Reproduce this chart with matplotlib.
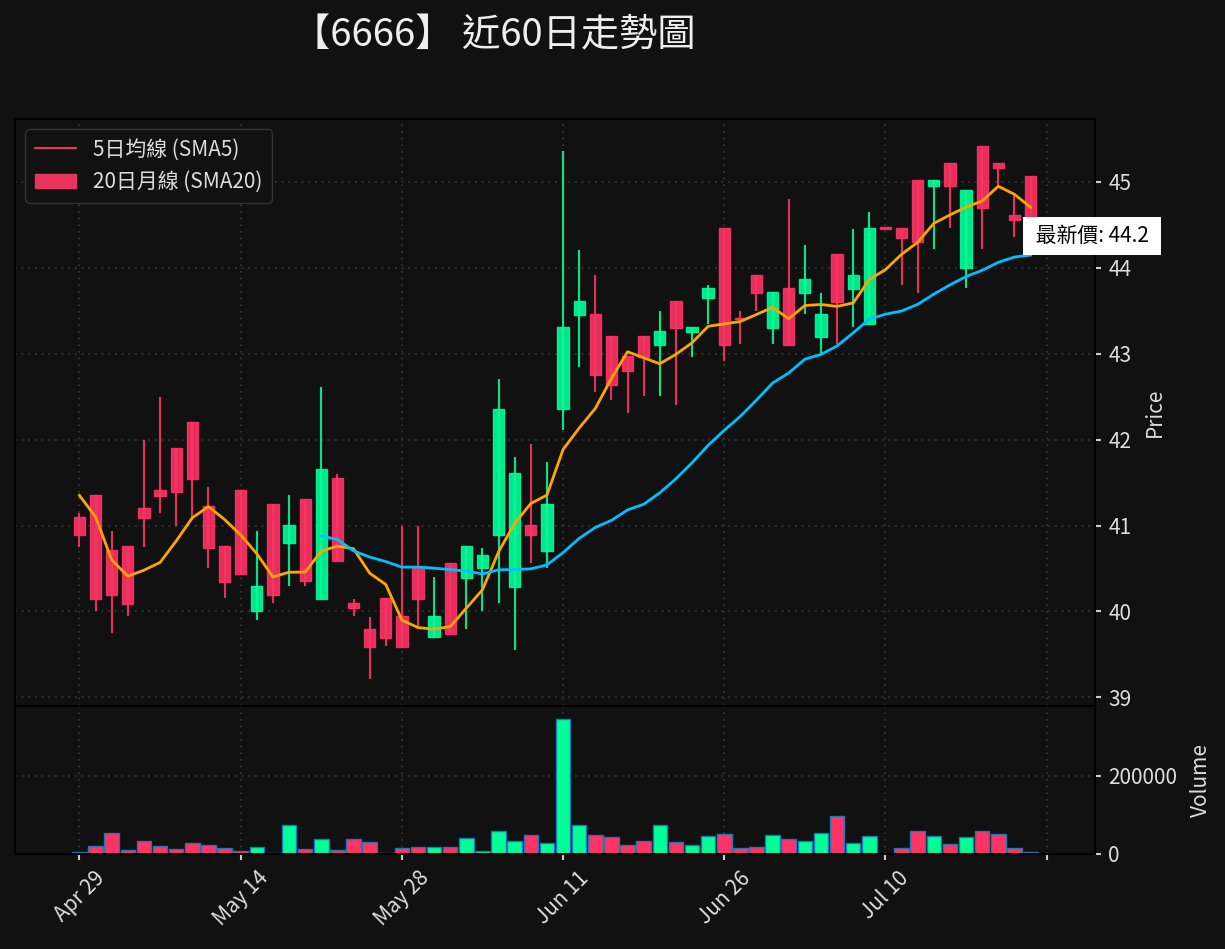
import numpy as np
import matplotlib
matplotlib.use("Agg")
import matplotlib.pyplot as plt
from matplotlib.lines import Line2D
from matplotlib.patches import Patch

plt.rcParams['font.family'] = ['Noto Sans CJK TC', 'DejaVu Sans']

# OHLC (60 trading days)
open_ = [41.10, 41.36, 40.71, 40.76, 41.20, 41.41, 41.90, 42.21, 41.23, 40.76,
         41.41, 40.00, 41.25, 40.80, 41.31, 40.15, 41.55, 40.10, 39.80, 40.16,
         39.95, 40.52, 39.70, 40.56, 40.39, 40.50, 40.89, 40.28, 41.01, 40.70,
         42.35, 43.45, 43.46, 43.20, 42.97, 43.20, 43.10, 43.61, 43.25, 43.65,
         44.46, 43.42, 43.92, 43.30, 43.76, 43.71, 43.19, 44.16, 43.75, 43.35,
         44.46, 44.46, 45.02, 44.95, 45.22, 44.00, 45.42, 45.22, 44.61, 45.07]
high = [41.15, 41.36, 40.94, 40.76, 42.00, 42.50, 41.90, 42.21, 41.45, 40.76,
        41.41, 40.94, 41.25, 41.35, 41.31, 42.61, 41.60, 40.15, 39.94, 40.16,
        41.00, 41.00, 40.40, 40.56, 40.76, 40.74, 42.70, 41.80, 41.95, 41.74,
        45.36, 44.21, 43.91, 43.20, 42.97, 43.20, 43.50, 43.61, 43.31, 43.80,
        44.46, 43.50, 43.92, 43.72, 44.80, 44.26, 43.71, 44.16, 44.45, 44.65,
        44.46, 44.46, 45.02, 45.02, 45.22, 44.91, 45.42, 45.22, 44.86, 45.07]
low = [40.75, 40.00, 39.75, 39.95, 40.75, 41.15, 41.00, 41.06, 40.50, 40.16,
       40.44, 39.90, 40.10, 40.30, 40.30, 40.15, 40.59, 39.95, 39.21, 39.60,
       39.59, 39.80, 39.70, 39.74, 39.80, 40.00, 40.10, 39.55, 40.56, 40.51,
       42.11, 42.85, 42.55, 42.46, 42.31, 42.51, 42.51, 42.40, 42.96, 43.35,
       42.91, 43.11, 43.50, 43.11, 43.10, 43.46, 43.00, 43.11, 43.31, 43.35,
       44.45, 43.80, 43.71, 44.22, 44.46, 43.76, 44.22, 44.95, 44.36, 44.15]
close = [40.89, 40.14, 40.19, 40.09, 41.09, 41.34, 41.39, 41.54, 40.74, 40.34,
         40.44, 40.30, 40.19, 41.01, 40.35, 41.66, 40.59, 40.04, 39.59, 39.69,
         39.59, 40.15, 39.95, 39.74, 40.76, 40.66, 42.36, 41.61, 40.89, 41.25,
         43.31, 43.61, 42.75, 42.64, 42.80, 42.96, 43.26, 43.30, 43.31, 43.76,
         43.10, 43.40, 43.71, 43.72, 43.10, 43.87, 43.46, 43.60, 43.92, 44.46,
         44.45, 44.35, 44.30, 45.02, 44.95, 44.91, 44.70, 45.16, 44.55, 44.20]
volume = [5000, 20700, 54300, 10300, 33600, 20700, 12900, 28400, 23300, 15500,
          7800, 18100, 1500, 75000, 12900, 38800, 10300, 38800, 31000, 2000,
          15500, 18100, 18100, 18100, 41400, 6900, 59500, 33600, 49100, 28400,
          344000, 75000, 49100, 44000, 23300, 33600, 75000, 31000, 23300, 46600,
          51700, 15500, 18100, 49100, 38800, 33600, 54300, 98300, 28400, 46600,
          500, 15500, 59500, 46600, 25900, 44000, 59500, 51700, 15500, 4300]
# closes of the 4 days before the window (needed for the moving averages)
prev_close = [41.39, 42.69, 41.04, 40.74]

tick_labels = ["Apr 29", "May 14", "May 28", "Jun 11", "Jun 26", "Jul 10", ""]

o = np.array(open_)
h = np.array(high)
l = np.array(low)
c = np.array(close)
v = np.array(volume)
n = len(c)
x = np.arange(n)

all_close = np.concatenate([prev_close, c])
k = len(prev_close)
sma5 = np.array([all_close[i - 4:i + 1].mean() for i in range(k, k + n)])
sma20 = np.array([all_close[i - 19:i + 1].mean() if i >= 19 else np.nan
                  for i in range(k, k + n)])

bg = "#111111"
up_c = "#00ff99"
dn_c = "#ff3366"
txt = "#dddddd"
is_up = c >= o
cols = np.where(is_up, up_c, dn_c)

fig = plt.figure(figsize=(12.25, 9.49), dpi=100)
fig.patch.set_facecolor(bg)
ax = fig.add_axes([15 / 1225, 1 - 706 / 949, 1080 / 1225, 587 / 949])
axv = fig.add_axes([15 / 1225, 1 - 854 / 949, 1080 / 1225, 148 / 949], sharex=ax)

for a in (ax, axv):
    a.set_facecolor(bg)
    for s in a.spines.values():
        s.set_color("black")
        s.set_linewidth(1.5)
    a.grid(True, color="#3a3a3a", linestyle=(0, (1, 3)), linewidth=1.2)
    a.set_axisbelow(True)
    a.yaxis.tick_right()
    a.yaxis.set_label_position("right")
    a.tick_params(colors="#cccccc", labelsize=15, length=4.5, width=1.5,
                  labelcolor=txt, pad=5)

# candles
ax.vlines(x, l, h, colors=cols, linewidth=1.5, alpha=0.9, zorder=2)
body = np.maximum(np.abs(c - o), 0.02)
ax.bar(x, body, bottom=np.minimum(o, c), width=0.7, color=cols, alpha=0.9,
       edgecolor=cols, linewidth=1, zorder=3)

ax.plot(x, sma5, color="#ffa500", linewidth=2, zorder=4)
ax.plot(x, sma20, color="#00bfff", linewidth=2, zorder=4)

rng = h.max() - l.min()
ax.set_ylim(l.min() - 0.05 * rng, h.max() + 0.05 * rng)
ax.set_xlim(-4, 63)
ax.set_ylabel("Price", color=txt, fontsize=15, labelpad=9)
plt.setp(ax.get_xticklabels(), visible=False)
ax.tick_params(axis="x", length=0)

ax.text(59.0, 44.245, f" 最新價: {c[-1]:.1f} ", fontsize=15, color="black",
        ha="left", va="bottom", zorder=6, clip_on=False,
        bbox=dict(boxstyle="square,pad=0.38", facecolor="white", edgecolor="none"))

handles = [Line2D([0], [0], color="#e8335f", linewidth=1.5),
           Patch(facecolor="#e8335f", edgecolor="#e8335f")]
leg = ax.legend(handles, ["5日均線 (SMA5)", "20日月線 (SMA20)"], loc="upper left",
                fontsize=15, facecolor=bg, edgecolor="#333333", labelcolor=txt,
                framealpha=1, borderpad=0.45)

# volume
axv.bar(x, v, width=0.9, color=cols, edgecolor="#1f77b4", linewidth=1)
axv.set_ylim(0, v.max() * 1.1)
axv.set_yticks([0, 200000])
axv.set_yticklabels(["0", "200000"])
axv.set_ylabel("Volume", color=txt, fontsize=15, labelpad=9)
axv.set_xticks(range(0, 61, 10))
axv.set_xticklabels(tick_labels, rotation=45)

fig.text(494 / 1225, 1 - 36 / 949, "【6666】 近60日走勢圖", fontsize=27.5,
         color="#eeeeee", ha="center", va="center")

fig.savefig("out.png", dpi=100, facecolor=bg)
